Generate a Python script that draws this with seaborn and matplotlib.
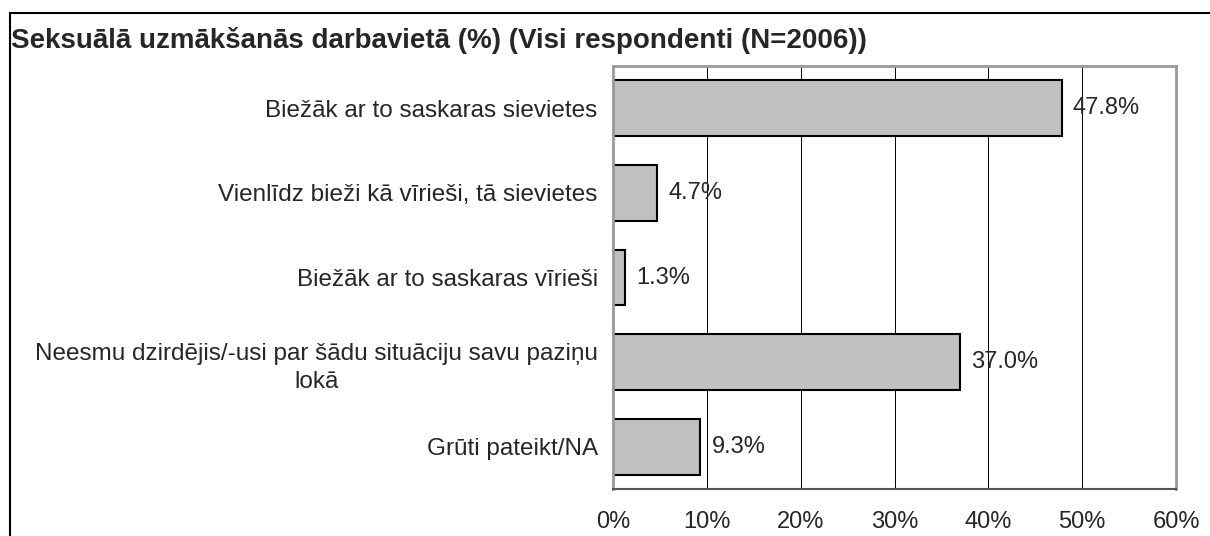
"""Horizontal bar chart: workplace sexual harassment survey."""

import matplotlib.pyplot as plt
import pandas as pd
import seaborn as sns
from matplotlib.patches import Rectangle
from matplotlib.ticker import FuncFormatter

TITLE = "Seksuālā uzmākšanās darbavietā (%) (Visi respondenti (N=2006))"
categories = [
    "Biežāk ar to saskaras sievietes",
    "Vienlīdz bieži kā vīrieši, tā sievietes",
    "Biežāk ar to saskaras vīrieši",
    "Neesmu dzirdējis/-usi par šādu situāciju savu paziņu\nlokā",
    "Grūti pateikt/NA",
]
values = [47.8, 4.7, 1.3, 37.0, 9.3]
x_ticks = [0, 10, 20, 30, 40, 50, 60]

sns.set_style("white")
plt.rcParams["font.family"] = ["Liberation Sans", "DejaVu Sans"]

df = pd.DataFrame({"category": categories, "value": values})

fig = plt.figure(figsize=(12.1, 5.36), dpi=100)
ax = fig.add_axes([613 / 1210, 1 - 489 / 536, (1176 - 613) / 1210, (489 - 66) / 536])

sns.barplot(data=df, x="value", y="category", color="#C0C0C0", edgecolor="black",
            linewidth=1.5, width=0.66, saturation=1, ax=ax)

ax.set_xlim(0, 60)
ax.set_ylim(len(categories) - 0.5, -0.5)
ax.set_xticks(x_ticks)
ax.xaxis.set_major_formatter(FuncFormatter(lambda v, _: f"{v:.0f}%"))
ax.grid(axis="x", color="black", linewidth=0.7)
ax.set_axisbelow(True)
ax.set_xlabel("")
ax.set_ylabel("")

# y ticks sit at category boundaries, labels at centres
ax.set_yticks([i + 0.5 for i in range(-1, len(categories))], minor=False)
ax.set_yticklabels([])
ax.set_yticks(range(len(categories)), minor=True)
ax.set_yticklabels(categories, minor=True, fontsize=17.5, multialignment="center",
                   linespacing=1.35)
ax.tick_params(axis="y", which="minor", length=0, pad=11)
ax.tick_params(axis="y", which="major", length=6, width=1, color="#404040", direction="out")
ax.tick_params(axis="x", length=6, width=1, color="#404040", direction="out",
               labelsize=17, pad=10)

for side in ["top", "right", "left"]:
    ax.spines[side].set_color("#999999")
    ax.spines[side].set_linewidth(2)
ax.spines["bottom"].set_color("#555555")
ax.spines["bottom"].set_linewidth(1.5)

for i, v in enumerate(values):
    ax.text(v + 1.2, i, f"{v:.1f}%", va="center", ha="left", fontsize=17)

fig.text(11 / 1210, 1 - 40 / 536, TITLE, fontsize=20, fontweight="bold", va="center", ha="left")

# outer frame, open on the right and at the bottom
fig.patches.append(Rectangle((10 / 1210, -0.1), 1.2, 1 - 13 / 536 + 0.1,
                             transform=fig.transFigure, fill=False,
                             edgecolor="black", linewidth=1.5))

fig.savefig("out.png", dpi=100)
